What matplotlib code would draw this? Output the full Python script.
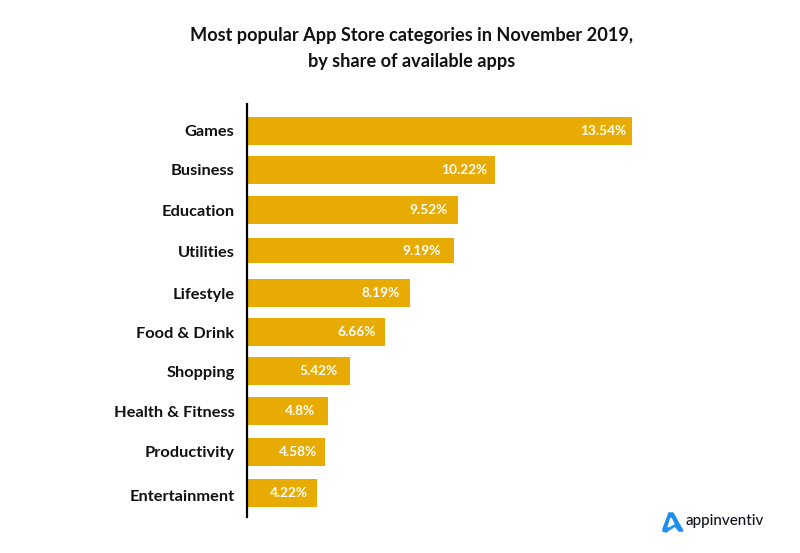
import matplotlib.pyplot as plt
from matplotlib.patches import Polygon

plt.rcParams['font.family'] = ['Lato', 'DejaVu Sans']

categories = ['Games', 'Business', 'Education', 'Utilities', 'Lifestyle', 'Food & Drink',
              'Shopping', 'Health & Fitness', 'Productivity', 'Entertainment']
share_labels = ['13.54%', '10.22%', '9.52%', '9.19%', '8.19%', '6.66%', '5.42%', '4.8%', '4.58%', '4.22%']
# the bars in the original are not to scale with their printed labels,
# so these are the lengths as drawn (Games = 13.54)
drawn_lengths = [13.54, 8.72, 7.42, 7.28, 5.73, 4.85, 3.62, 2.85, 2.74, 2.46]
# rows are not quite evenly spaced in the original
rows = [0, 0.96, 1.96, 2.97, 4.02, 5.0, 5.97, 6.96, 7.98, 9.0]
label_rows = [-0.03, 0.96, 1.96, 2.99, 4.04, 5.0, 5.99, 6.98, 7.98, 9.07]
bar_heights = [0.7, 0.7, 0.7, 0.62, 0.7, 0.7, 0.7, 0.7, 0.7, 0.7]
# gap in px between a value label and the end of its bar
label_gaps = [6, 8, 10, 13, 10, 9, 12, 13, 8, 9]

W, H = 800, 553


def to_fig(points):
    return [[x / W, 1 - y / H] for x, y in points]


fig = plt.figure(figsize=(W / 100, H / 100), dpi=100)
ax = fig.add_axes([247 / W, 1 - 517 / H, 400 / W, 413 / H])

ax.barh(rows, drawn_lengths, height=bar_heights, color='#E8AB03')
ax.set_xlim(0, 14.07)
ax.set_ylim(9.6, -0.68)
ax.set_xticks([])
ax.set_yticks(label_rows)
ax.set_yticklabels(categories, fontsize=11.8, fontweight='bold', color='#111111')
ax.tick_params(axis='y', length=0, pad=9)

for s in ['top', 'right', 'bottom']:
    ax.spines[s].set_visible(False)
ax.spines['left'].set_linewidth(1.6)
ax.spines['left'].set_color('black')

for r, v, lab, gap in zip(rows, drawn_lengths, share_labels, label_gaps):
    ax.annotate(lab, (v, r), xytext=(-gap * 0.72, 0), textcoords='offset points', color='white',
                fontsize=9.8, fontweight='bold', ha='right', va='center')

fig.text(412 / W, 1 - 36 / H, 'Most popular App Store categories in November 2019,', fontsize=13.1,
         fontweight='bold', ha='center', va='center', color='#111111')
fig.text(412 / W, 1 - 61 / H, 'by share of available apps', fontsize=13.1,
         fontweight='bold', ha='center', va='center', color='#111111')

# logo
fig.add_artist(Polygon(to_fig([(663, 529), (669, 513), (673, 513), (683, 531), (679, 531), (675, 526), (666, 532), (663, 531)]),
                       closed=True, color='#1E8FEF', transform=fig.transFigure))
fig.add_artist(Polygon(to_fig([(671, 518), (674, 524), (668, 527)]),
                       closed=True, color='white', transform=fig.transFigure))
fig.text(685 / W, 1 - 521 / H, 'appinventiv', fontsize=10.9, fontweight='medium', ha='left', va='center', color='#10131a')

fig.savefig('out.png', dpi=100)
